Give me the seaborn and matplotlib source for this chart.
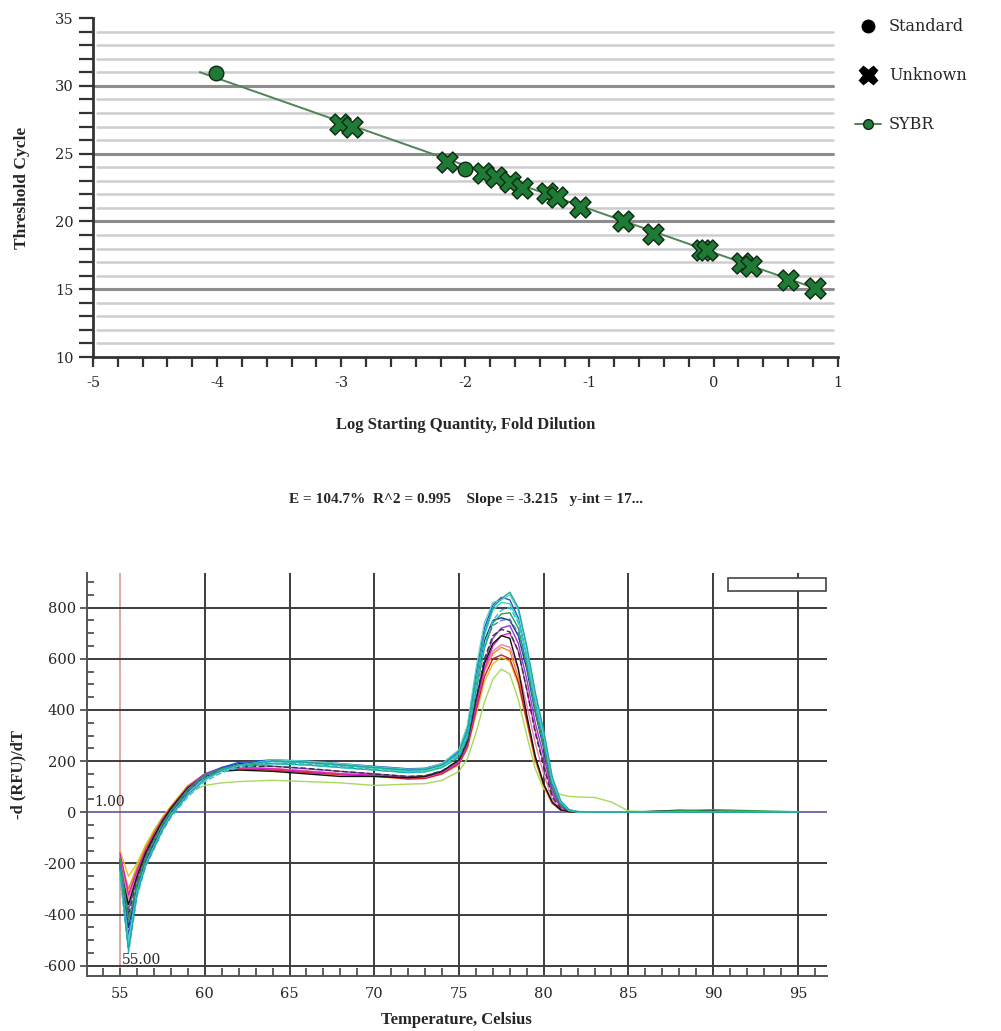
import matplotlib
matplotlib.use("Agg")
import numpy as np
import pandas as pd
import matplotlib.pyplot as plt
import seaborn as sns
from matplotlib.lines import Line2D
from matplotlib.patches import Rectangle
from matplotlib.ticker import MultipleLocator

# standard curve (top panel)
std_x = [-4.01, -2.0]
std_y = [30.94, 23.9]
unk_x = [-3.01, -2.91, -2.15, -1.86, -1.75, -1.64, -1.54, -1.34, -1.26,
         -1.08, -0.73, -0.49, -0.09, -0.05, 0.23, 0.30, 0.60, 0.82]
unk_y = [27.2, 27.0, 24.4, 23.6, 23.3, 22.9, 22.5, 22.1, 21.8,
         21.1, 20.0, 19.1, 17.9, 17.9, 16.9, 16.7, 15.7, 15.1]
fit_x = [-4.14, 0.85]
slope = -3.215
y_int = 17.7
stats_text = "E = 104.7%  R^2 = 0.995    Slope = -3.215   y-int = 17..."

# melt curves (bottom panel), values read at these temperatures
temps = [55.0, 55.5, 56.0, 56.5, 57.0, 57.5, 58.0, 59.0, 60.0, 61.0, 62.0, 64.0, 66.0,
         68.0, 70.0, 72.0, 73.0, 74.0,
         75.0, 75.5, 76.0, 76.5, 77.0, 77.5, 78.0, 78.5, 79.0, 79.5, 80.0, 80.5, 81.0, 81.5,
         82.0, 83.0, 84.0, 85.0, 88.0, 90.0, 95.0]

well_yellowgreen = [-230, -300, -210, -130, -70, -20, 20, 75, 105, 115, 120, 125, 120, 115, 105, 110, 112, 125,
                    160, 210, 310, 430, 520, 560, 540, 440, 300, 170, 90, 80, 70, 62,
                    60, 58, 40, 5, 0, 0, 0]
well_yellow = [-150, -250, -200, -130, -75, -20, 25, 105, 150, 165, 170, 165, 155, 145, 140, 130, 133, 150,
               185, 250, 380, 510, 580, 605, 590, 500, 350, 200, 100, 35, 8, 1,
               0, 0, 0, 0, 0, 0, 0]
well_orange = [-170, -300, -220, -140, -80, -25, 20, 100, 145, 165, 172, 170, 160, 150, 145, 138, 140, 158,
               195, 265, 410, 550, 620, 645, 630, 530, 370, 210, 105, 35, 8, 1,
               0, 0, 0, 0, 0, 0, 0]
well_red = [-180, -330, -230, -150, -85, -28, 18, 98, 145, 162, 170, 165, 155, 148, 142, 130, 132, 150,
            190, 255, 395, 530, 600, 615, 600, 510, 360, 210, 110, 38, 9, 1,
            0, 0, 0, 0, 0, 0, 0]
well_pink = [-170, -340, -240, -155, -90, -30, 15, 95, 145, 165, 175, 172, 162, 152, 145, 138, 140, 158,
             200, 270, 420, 560, 630, 655, 645, 560, 420, 270, 150, 50, 12, 2,
             0, 0, 0, 0, 0, 0, 0]
well_magenta = [-160, -320, -230, -150, -90, -30, 15, 100, 150, 170, 175, 170, 160, 150, 145, 135, 138, 155,
                195, 260, 410, 560, 650, 690, 700, 630, 480, 320, 190, 70, 20, 4,
                1, 0, 0, 0, 4, 0, 0]
well_purple = [-200, -380, -260, -170, -100, -40, 10, 95, 150, 175, 185, 180, 170, 160, 150, 140, 142, 160,
               200, 270, 430, 590, 680, 720, 730, 660, 520, 350, 220, 80, 25, 5,
               1, 0, 0, 0, 0, 0, 0]
well_black = [-220, -360, -250, -160, -95, -35, 15, 95, 140, 160, 165, 160, 150, 140, 140, 135, 140, 160,
              205, 280, 440, 580, 660, 690, 680, 560, 380, 220, 110, 40, 10, 2,
              0, 0, 0, 0, 8, 5, 0]
well_darkgray = [-210, -400, -270, -175, -105, -40, 8, 90, 140, 165, 178, 180, 172, 160, 150, 140, 143, 162,
                 205, 275, 440, 600, 690, 715, 705, 630, 480, 310, 180, 60, 15, 3,
                 0, 0, 0, 0, 5, 0, 0]
well_navy = [-190, -450, -290, -190, -120, -50, 0, 85, 140, 170, 190, 200, 195, 185, 175, 165, 167, 185,
             230, 310, 500, 670, 750, 760, 750, 690, 560, 390, 250, 95, 30, 6,
             1, 0, 0, 0, 0, 0, 0]
well_blue = [-200, -480, -300, -200, -130, -60, -5, 80, 140, 175, 195, 205, 200, 190, 180, 170, 172, 190,
             240, 330, 540, 720, 810, 840, 830, 760, 610, 430, 280, 110, 35, 8,
             2, 0, 0, 0, 2, 0, 0]
well_steelblue = [-195, -430, -285, -185, -115, -48, 2, 85, 140, 168, 185, 192, 188, 178, 168, 158, 160, 178,
                  222, 300, 480, 650, 730, 750, 755, 700, 570, 400, 260, 100, 32, 6,
                  1, 0, 0, 0, 0, 0, 0]
well_green = [-180, -420, -280, -180, -110, -45, 5, 90, 145, 170, 185, 190, 185, 175, 165, 155, 158, 175,
              215, 290, 470, 640, 740, 775, 780, 720, 580, 400, 260, 100, 30, 6,
              1, 0, 0, 0, 6, 10, 2]
well_turquoise = [-240, -500, -310, -205, -135, -65, -10, 70, 130, 165, 185, 198, 193, 183, 172, 160, 162, 180,
                  228, 315, 505, 690, 790, 820, 815, 750, 610, 440, 300, 125, 42, 9,
                  2, 0, 0, 0, 0, 0, 0]
well_cyan = [-250, -550, -330, -215, -145, -75, -20, 60, 120, 155, 175, 190, 185, 175, 165, 155, 158, 175,
             220, 300, 480, 650, 750, 790, 800, 740, 600, 430, 290, 120, 40, 8,
             2, 0, 0, 0, 0, 0, 0]
well_aqua = [-230, -520, -315, -208, -138, -68, -12, 65, 125, 160, 182, 205, 200, 190, 178, 168, 170, 190,
             245, 340, 560, 740, 820, 830, 850, 790, 640, 460, 310, 130, 42, 9,
             2, 0, 0, 0, 0, 0, 0]
well_teal = [-220, -540, -320, -210, -140, -70, -15, 70, 130, 165, 185, 200, 195, 185, 175, 165, 168, 185,
             235, 320, 520, 700, 800, 835, 860, 800, 650, 470, 320, 140, 45, 10,
             3, 0, 0, 0, 0, 0, 0]

wells = {
    "yellowgreen": (well_yellowgreen, "#a8d860"),
    "yellow": (well_yellow, "#e8c020"),
    "orange": (well_orange, "#f08a20"),
    "red": (well_red, "#d02030"),
    "pink": (well_pink, "#f080b0"),
    "magenta": (well_magenta, "#e020c8"),
    "purple": (well_purple, "#8a3fd0"),
    "black": (well_black, "#111111"),
    "darkgray": (well_darkgray, "#333333"),
    "navy": (well_navy, "#1a2a80"),
    "blue": (well_blue, "#2a4fd6"),
    "steelblue": (well_steelblue, "#4a80c0"),
    "green": (well_green, "#2e9b4f"),
    "turquoise": (well_turquoise, "#40d8c0"),
    "cyan": (well_cyan, "#1ec8e8"),
    "aqua": (well_aqua, "#60d0c8"),
    "teal": (well_teal, "#20a8a0"),
}
dashed_wells = ["darkgray", "steelblue", "cyan"]

rows = []
for name, (vals, _) in wells.items():
    for t, v in zip(temps, vals):
        rows.append({"temp": t, "value": v, "well": name})
melt = pd.DataFrame(rows)

sns.set_theme(style="white")
plt.rcParams["font.family"] = ["DejaVu Serif"]
plt.rcParams["axes.unicode_minus"] = False

fig = plt.figure(figsize=(10.01, 10.31), dpi=100)

# ---------------- top: standard curve ----------------
ax1 = fig.add_axes([0.0929, 0.6537, 0.744, 0.3288])
ax1.set_xlim(-5, 1)
ax1.set_ylim(10, 35)
for v in range(11, 35):
    if v % 5 == 0:
        ax1.axhline(v, color="#8c8c8c", lw=2.2, zorder=0, xmax=0.993)
    else:
        ax1.axhline(v, color="#cdcdcd", lw=1.8, zorder=0, xmin=0.006, xmax=0.993)

fit_y = [y_int + slope * x for x in fit_x]
sns.lineplot(x=fit_x, y=fit_y, ax=ax1, color="#4f8456", lw=1.4, zorder=2)
sns.scatterplot(x=unk_x, y=unk_y, ax=ax1, marker="X", s=230, color="#1f7a35",
                edgecolor="#0c2a12", linewidth=1.0, zorder=3)
sns.scatterplot(x=std_x, y=std_y, ax=ax1, marker="o", s=110, color="#1f7a35",
                edgecolor="#0c2a12", linewidth=1.0, zorder=4)

ax1.set_xticks(range(-5, 2))
ax1.xaxis.set_minor_locator(MultipleLocator(0.2))
ax1.set_yticks(range(10, 36, 5))
ax1.yaxis.set_minor_locator(MultipleLocator(1))
ax1.tick_params(axis="both", which="both", direction="out", color="#333333",
                width=1.6, labelsize=10.5, bottom=True, left=True)
ax1.tick_params(axis="x", which="both", length=7, pad=7)
ax1.tick_params(axis="y", which="both", length=10, pad=4)
for s in ["top", "right"]:
    ax1.spines[s].set_visible(False)
for s in ["left", "bottom"]:
    ax1.spines[s].set_color("#333333")
    ax1.spines[s].set_linewidth(2)
ax1.set_ylabel("Threshold Cycle", family="Liberation Serif", fontweight="bold",
               fontsize=12.5, labelpad=18)
ax1.set_xlabel("Log Starting Quantity, Fold Dilution", family="Liberation Serif",
               fontweight="bold", fontsize=12, labelpad=19)
fig.text(0.466, 0.516, stats_text, family="Liberation Serif", fontweight="bold",
         fontsize=11, ha="center", va="center")

handles = [
    Line2D([], [], marker="o", color="black", ls="None", markersize=9),
    Line2D([], [], marker="X", color="black", ls="None", markersize=13),
    Line2D([], [], marker="o", color="#4f8456", lw=1.4, markersize=7,
           markerfacecolor="#1f7a35", markeredgecolor="#0c2a12"),
]
fig.legend(handles, ["Standard", "Unknown", "SYBR"], loc="upper left",
           bbox_to_anchor=(0.84, 0.996), frameon=False, fontsize=11.5,
           labelspacing=2.0, handletextpad=0.5, handlelength=1.6)

# ---------------- bottom: melt curves ----------------
ax2 = fig.add_axes([0.0869, 0.0533, 0.739, 0.3909])
ax2.set_xlim(53.05, 96.7)
ax2.set_ylim(-640, 935)
for t in range(60, 96, 5):
    ax2.axvline(t, color="#3c3c3c", lw=1.4, zorder=0)
ax2.axvline(55, color="#d9aaa0", lw=1.4, zorder=0)
for v in range(-600, 801, 200):
    if v == 0:
        ax2.axhline(v, color="#5555a0", lw=1.2, zorder=0)
    else:
        ax2.axhline(v, color="#3c3c3c", lw=1.4, zorder=0)

palette = {name: c for name, (_, c) in wells.items()}
dash_map = {name: ((4, 2) if name in dashed_wells else "") for name in wells}
sns.lineplot(data=melt, x="temp", y="value", hue="well", style="well",
             palette=palette, dashes=dash_map, hue_order=list(wells),
             estimator=None, lw=1.0, legend=False, ax=ax2, zorder=2)

ax2.set_xticks(range(55, 96, 5))
ax2.xaxis.set_minor_locator(MultipleLocator(1))
ax2.set_yticks(range(-600, 801, 200))
ax2.yaxis.set_minor_locator(MultipleLocator(50))
ax2.tick_params(axis="both", which="both", color="#444444", width=1.2,
                labelsize=10.5, bottom=True, left=True)
ax2.tick_params(axis="x", which="both", direction="in", length=6, pad=8)
ax2.tick_params(axis="y", which="major", direction="out", length=5, pad=3)
ax2.tick_params(axis="y", which="minor", direction="in", length=5)
for s in ["top", "right"]:
    ax2.spines[s].set_visible(False)
for s in ["left", "bottom"]:
    ax2.spines[s].set_color("#555555")
    ax2.spines[s].set_linewidth(1.4)
ax2.set_xlabel("Temperature, Celsius", family="Liberation Serif", fontweight="bold",
               fontsize=12, labelpad=8)
ax2.set_ylabel("-d (RFU)/dT", family="Liberation Serif", fontweight="bold",
               fontsize=12, labelpad=12)
ax2.text(53.5, 12, "1.00", fontsize=10, ha="left", va="bottom")
ax2.text(55.1, -605, "55.00", fontsize=10, ha="left", va="bottom")
ax2.add_patch(Rectangle((0.866, 0.955), 0.133, 0.032, transform=ax2.transAxes,
                        facecolor="white", edgecolor="#444444", lw=1.2, zorder=5))

fig.savefig("out.png", dpi=100)
